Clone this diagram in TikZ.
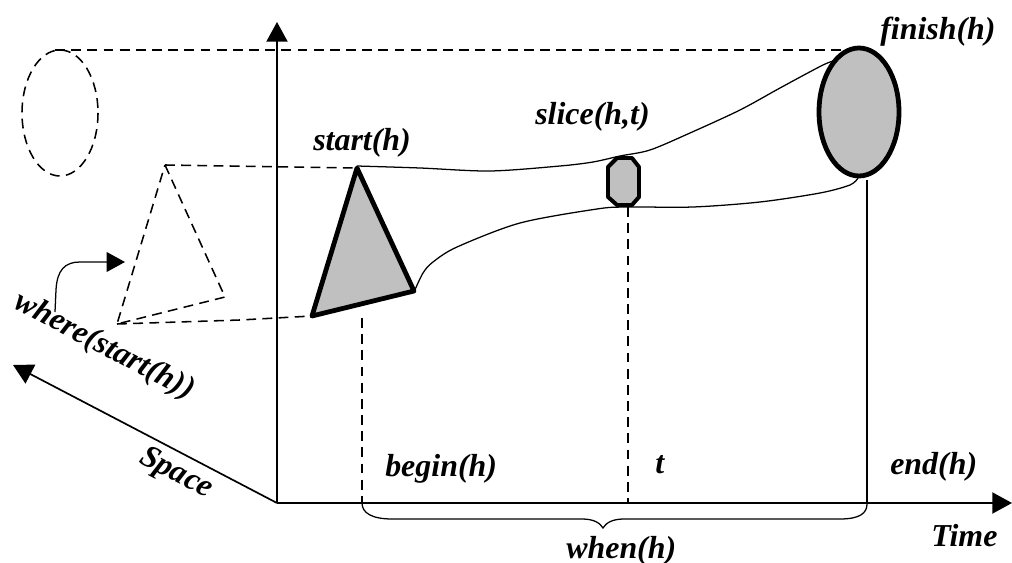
\documentclass[tikz,border=0pt]{standalone}
\usepackage{fontspec}
\setmainfont{Liberation Serif}
\usetikzlibrary{arrows.meta}
\definecolor{shade}{RGB}{192,192,192}
\begin{document}
\begin{tikzpicture}[x=0.025cm,y=-0.025cm,
  lbl/.style={font=\fontsize{22.7}{26}\selectfont\bfseries\itshape, inner sep=0pt, anchor=base west},
  axis/.style={line width=1.2pt, -{Triangle[length=14pt,width=15pt]}},
  dashln/.style={line width=1.1pt, dash pattern=on 7pt off 4.5pt},
  thin/.style={line width=0.9pt},
  bold/.style={line width=3.4pt, fill=shade, line join=round},
  boldoct/.style={line width=2.8pt, fill=shade, line join=round}]
\useasboundingbox (0,0) rectangle (1012,563);

% axes
\coordinate (O) at (277,503);
\coordinate (Ytip) at (277,22);
\coordinate (Xtip) at (1012,503);
\coordinate (Stip) at (13,365);
\draw[axis] (O) -- (Ytip);
\draw[axis] (O) -- (Xtip);
\draw[axis] (O) -- (Stip);

% key points
\coordinate (Ltop) at (55,50);
\coordinate (Ftop) at (858,50);
\coordinate (DTtop) at (165,165);
\coordinate (DTright) at (225,297);
\coordinate (DTleft) at (117,324);
\coordinate (STtop) at (357,168);
\coordinate (STright) at (414,291);
\coordinate (STleft) at (312,316);
\coordinate (SLbot) at (628,207);
\coordinate (Fbot) at (867,180);

% dashed projections
\draw[dashln] (60,113) ellipse [x radius=38, y radius=63];
\draw[dashln] (Ltop) -- (Ftop);
\draw[dashln] (DTtop) -- (DTright) -- (DTleft) -- cycle;
\draw[dashln] (DTtop) -- (STtop);
\draw[dashln] (DTleft) -- (240,320) -- (STleft);
\draw[dashln] (362,318) -- (362,503);
\draw[dashln] (SLbot) -- (628,503);

% tube outlines
\draw[thin] plot[smooth, tension=0.5] coordinates {(357,166) (420,168) (490,171) (560,166) (593,162) (620,156) (650,150) (690,133) (740,110) (780,88) (823,65) (837,60)};
\draw[thin] plot[smooth, tension=0.5] coordinates {(414,292) (423,273) (433,262) (457,247) (520,223) (597,209) (627,207) (693,207) (760,202) (820,193) (850,185) (858,178)};

% shapes
\draw[bold] (STtop) -- (STright) -- (STleft) -- cycle;
\draw[boldoct] (617,158) -- (632,158) -- (639,167) -- (639,197) -- (632,205) -- (617,205) -- (608,197) -- (608,167) -- cycle;
\draw[bold] (859,112) ellipse [x radius=40, y radius=64];
\draw[thin] (Fbot) -- (867,503);

% brace
\draw[thin] (362,503) .. controls (362,513) and (372,519) .. (392,519) -- (582,519)
  .. controls (594,519) and (600,523) .. (603,528)
  .. controls (606,523) and (612,519) .. (624,519) -- (840,519)
  .. controls (860,519) and (867,513) .. (867,504);

% labels
\node[lbl] (lstart) at (313,151) {start(h)};
\node[lbl] (lslice) at (535,125) {slice(h,t)};
\node[lbl] (lfinish) at (880,40) {finish(h)};
\node[lbl] (lbegin) at (385,476) {begin(h)};
\node[lbl] (lt) at (655,473) {t};
\node[lbl] (lend) at (890,474) {end(h)};
\node[lbl] (ltime) at (931,546) {Time};
\node[lbl] (lwhen) at (566,558) {when(h)};
\node[lbl, anchor=center, rotate=-27.6] (lspace) at (176,474) {Space};
\node[lbl, anchor=center, rotate=-27.6] (lwhere) at (104,347) {where(start(h))};

% where arrow
\coordinate (Warr) at (125,262);
\draw[thin, -{Triangle[length=13pt,width=14pt]}] (55,312) -- (56,290) .. controls (57,270) and (65,262) .. (80,262) -- (Warr);
\end{tikzpicture}
\end{document}
